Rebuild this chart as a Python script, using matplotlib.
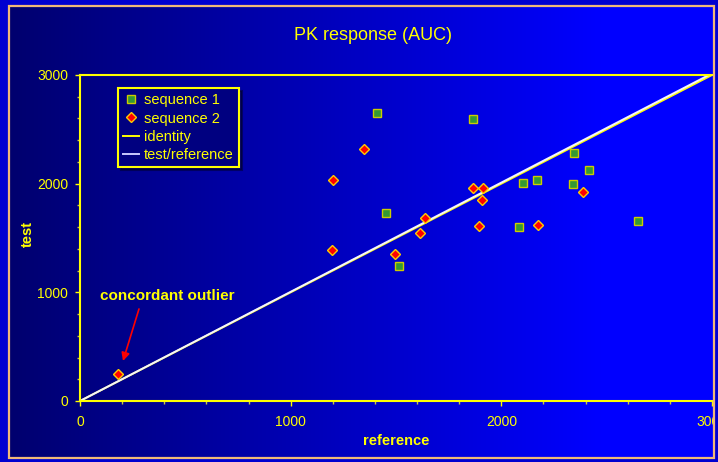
import numpy as np
import matplotlib
matplotlib.use("Agg")
import matplotlib.pyplot as plt
from matplotlib.patches import Rectangle
from matplotlib.lines import Line2D

# ---- data ----
seq1_ref = [1411, 1864, 2345, 2415, 2101, 2168, 2339, 1452, 2084, 2649, 1516]
seq1_test = [2647, 2592, 2279, 2126, 2003, 2037, 2000, 1730, 1598, 1654, 1245]
seq2_ref = [1347, 1202, 1864, 1911, 1908, 2389, 1636, 1614, 1893, 2172, 1198, 1497, 182]
seq2_test = [2322, 2034, 1963, 1963, 1850, 1923, 1687, 1546, 1610, 1617, 1392, 1353, 251]
identity_x = [0, 3000]
ratio_tr = 1.005
title = "PK response (AUC)"
xlabel = "reference"
ylabel = "test"
outlier_label = "concordant outlier"
outlier_text_xy = (413, 966)
outlier_arrow_from = (280, 847)
outlier_arrow_to = (204, 368)

W, H = 718, 462
OUTER = '#0000d0'
BORDER = '#f0b878'
fig = plt.figure(figsize=(W / 100, H / 100), dpi=100)
fig.patch.set_facecolor(OUTER)

# background gradient
bg = fig.add_axes([0, 0, 1, 1], zorder=-10)
bg.axis('off')
xs = np.linspace(9, 715, 400)
t = np.clip((xs - 9) / (600 - 9), 0, 1)
blue = (110 + 145 * t) / 255.0
img = np.zeros((2, len(xs), 3))
img[:, :, 2] = blue
bg.imshow(img, extent=(9, 715, 458, 6), aspect='auto', interpolation='bilinear')
bg.set_xlim(0, W)
bg.set_ylim(H, 0)

YEL = '#ffff00'
FONT = 'Liberation Sans'
ax = fig.add_axes([80 / W, 1 - 401 / H, 632 / W, 326 / H])
ax.set_facecolor('none')
ax.set_xlim(0, 3000)
ax.set_ylim(0, 3000)

ax.plot(identity_x, identity_x, color='#ffff00', lw=1.4, zorder=2, label='identity')
ax.plot(identity_x, [v * ratio_tr for v in identity_x], color='#f4f4ff', lw=1.4, zorder=2.1,
        label='test/reference')
ax.plot(seq1_ref, seq1_test, ls='none', marker='s', ms=6, mfc='#339933', mec='#cccc00',
        mew=1.0, zorder=3, clip_on=False, label='sequence 1')
ax.plot(seq2_ref, seq2_test, ls='none', marker='D', ms=5.5, mfc='#ff0000', mec='#ffcc00',
        mew=1.0, zorder=3, clip_on=False, label='sequence 2')

for s in ['left', 'bottom', 'top']:
    ax.spines[s].set_color(YEL)
    ax.spines[s].set_linewidth(1.5)
ax.spines['right'].set_visible(False)

ax.set_xticks([0, 1000, 2000, 3000])
ax.set_yticks([0, 1000, 2000, 3000])
ax.set_xticks(np.arange(0, 3001, 200), minor=True)
ax.set_yticks(np.arange(0, 3001, 200), minor=True)
ax.tick_params(which='major', colors=YEL, labelcolor=YEL, length=3.5, width=1, labelsize=10)
ax.tick_params(which='minor', colors='#c8c840', length=2.2, width=1)
ax.tick_params(axis='x', which='major', pad=6.5)
ax.tick_params(axis='y', which='major', pad=5)

ax.set_xlabel(xlabel, color=YEL, fontweight='bold', fontsize=10.5, family=FONT, va='center')
ax.set_ylabel(ylabel, color=YEL, fontweight='bold', fontsize=10.5, family=FONT, va='center')
ax.xaxis.set_label_coords(0.5, (401 - 441) / 326)
ax.yaxis.set_label_coords((28 - 80) / 632, (401 - 234) / 326)
for lab in ax.get_xticklabels() + ax.get_yticklabels():
    lab.set_family(FONT)

fig.text(373 / W, 1 - 36 / H, title, color=YEL, fontsize=13, ha='center', va='center',
         family=FONT)

ax.text(*outlier_text_xy, outlier_label, color=YEL, fontweight='bold', fontsize=11,
        ha='center', va='center', family=FONT)
ax.annotate('', xy=outlier_arrow_to, xytext=outlier_arrow_from,
            arrowprops=dict(arrowstyle='-|>', color='#ff0000', lw=1.2,
                            mutation_scale=12, shrinkA=0, shrinkB=0))

handles = [
    Line2D([], [], ls='none', marker='s', ms=6, mfc='#339933', mec='#cccc00', mew=1.0),
    Line2D([], [], ls='none', marker='D', ms=5.5, mfc='#ff0000', mec='#ffcc00', mew=1.0),
    Line2D([], [], color='#ffff00', lw=1.4),
    Line2D([], [], color='#c8c8ff', lw=1.4),
]
leg = ax.legend(handles, ['sequence 1', 'sequence 2', 'identity', 'test/reference'],
                loc='upper left', bbox_to_anchor=(0.06, 0.96), borderaxespad=0,
                fancybox=False, shadow=True, facecolor='#000080', edgecolor=YEL,
                framealpha=1, handlelength=1.1, handletextpad=0.35, labelspacing=0.3,
                borderpad=0.35, prop={'family': FONT, 'size': 10.5})
leg.get_frame().set_linewidth(1.5)
for txt in leg.get_texts():
    txt.set_color(YEL)

# overlay: outer strip on the right and the tan frame (covers the clipped "3000")
ov = fig.add_axes([0, 0, 1, 1], zorder=20)
ov.set_xlim(0, W)
ov.set_ylim(H, 0)
ov.axis('off')
ov.patch.set_alpha(0)
ov.add_patch(Rectangle((713.5, 0), 10, H, facecolor=OUTER, edgecolor='none'))
ov.add_patch(Rectangle((9, 6), 705, 452, fill=False, edgecolor=BORDER, lw=1.6))

fig.savefig('out.png', dpi=100, facecolor=fig.get_facecolor())
